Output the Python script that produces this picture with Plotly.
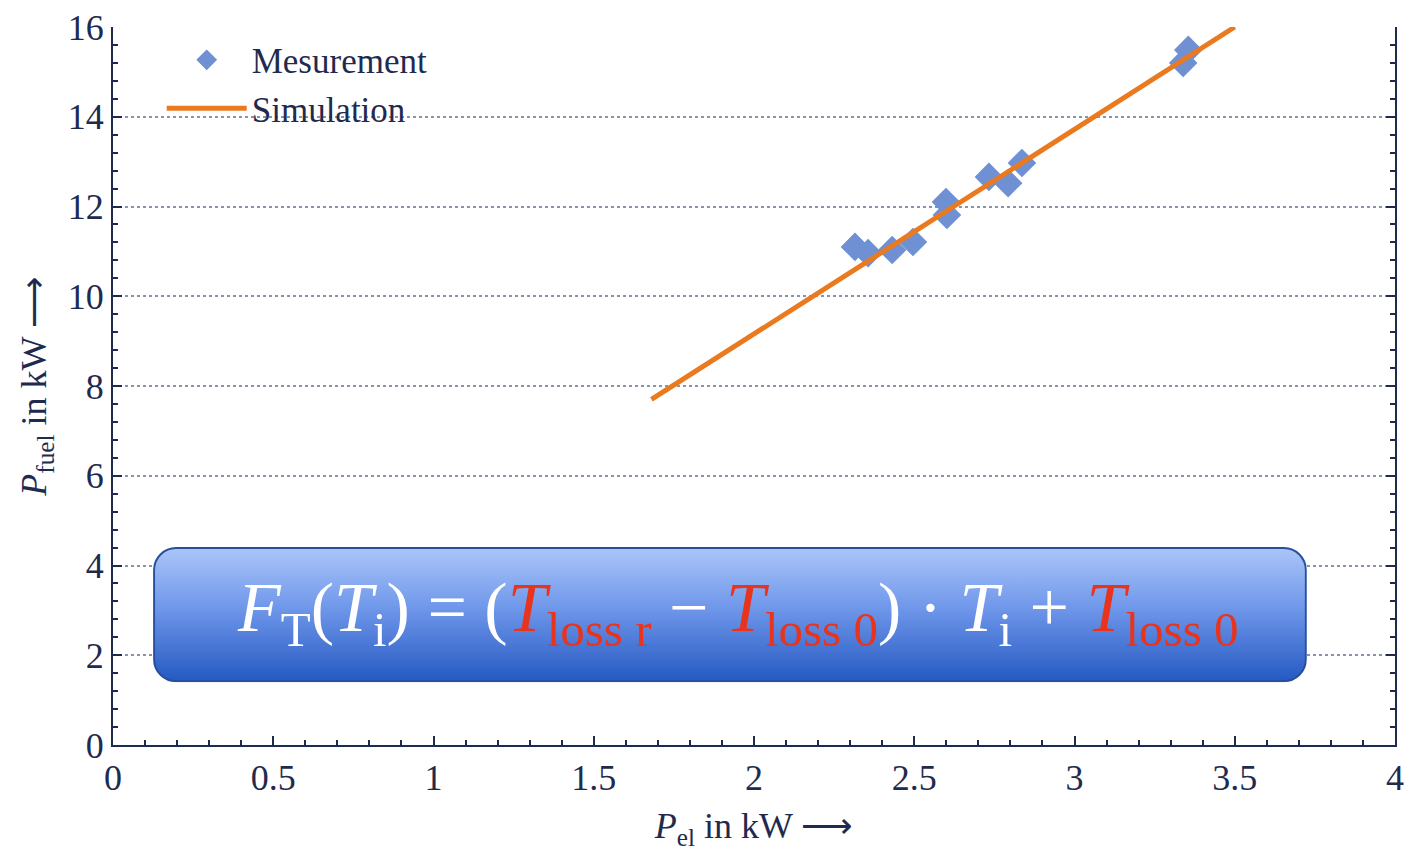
import base64
import plotly.graph_objects as go

# ---- data ----
meas_x = [2.315, 2.356, 2.431, 2.496, 2.599, 2.602, 2.733, 2.793, 2.836, 3.339, 3.355]
meas_y = [11.10, 10.96, 11.03, 11.21, 12.10, 11.81, 12.66, 12.52, 12.97, 15.20, 15.49]
sim_x = [1.68, 3.50]
sim_y = [7.70, 16.00]
x_ticks = [0, 0.5, 1, 1.5, 2, 2.5, 3, 3.5, 4]
x_ticklabels = ["0", "0.5", "1", "1.5", "2", "2.5", "3", "3.5", "4"]
y_ticks = [0, 2, 4, 6, 8, 10, 12, 14, 16]
y_ticklabels = ["0", "2", "4", "6", "8", "10", "12", "14", "16"]

FONT = "Liberation Serif"
NAVY = "#1f2b4e"

fig = go.Figure()
fig.add_trace(go.Scatter(
    x=meas_x, y=meas_y, mode="markers", name="Mesurement",
    marker=dict(symbol="diamond", size=22, color="#6f90d3", line=dict(width=0)),
))
fig.add_trace(go.Scatter(
    x=sim_x, y=sim_y, mode="lines", name="Simulation",
    line=dict(color="#ea7a1f", width=5),
))

# gradient rounded box as an SVG image
svg = """<svg xmlns='http://www.w3.org/2000/svg' width='1154' height='135' viewBox='0 0 1154 135'>
<defs><linearGradient id='g' x1='0' y1='0' x2='0' y2='1'>
<stop offset='0' stop-color='#abc5f8'/><stop offset='0.45' stop-color='#6f97ea'/>
<stop offset='1' stop-color='#2559c2'/></linearGradient></defs>
<rect x='1' y='1' width='1152' height='133' rx='22' ry='22' fill='url(#g)' stroke='#284f9e' stroke-width='2'/>
</svg>"""
src = "data:image/svg+xml;base64," + base64.b64encode(svg.encode()).decode()
fig.add_layout_image(dict(
    source=src, xref="x", yref="y", x=0.125, y=4.41, sizex=3.60, sizey=3.01,
    sizing="stretch", xanchor="left", yanchor="top", layer="above",
))

red = "#e8341c"
formula = ("<i>F</i><sub>T</sub>(<i>T</i><sub>i</sub>) = ("
           f"<span style='color:{red}'><i>T</i><sub>loss r</sub></span> − "
           f"<span style='color:{red}'><i>T</i><sub>loss 0</sub></span>) · "
           f"<i>T</i><sub>i</sub> + <span style='color:{red}'><i>T</i><sub>loss 0</sub></span>")
fig.add_annotation(x=1.95, y=2.95, xref="x", yref="y", text=formula, showarrow=False,
                   font=dict(family=FONT, size=70, color="white"))

axis_common = dict(
    showline=True, linecolor=NAVY, linewidth=2, ticks="inside",
    tickcolor=NAVY, tickwidth=2, tickfont=dict(family=FONT, size=36, color=NAVY),
    zeroline=False,
)
fig.update_xaxes(
    range=[0, 4], tickvals=x_ticks, ticktext=x_ticklabels, ticklen=9,
    showgrid=False, minor=dict(dtick=0.1, ticklen=5, ticks="inside", tickcolor=NAVY, tickwidth=1.5),
    title=dict(text="<i>P</i><sub>el</sub> in kW ⟶", font=dict(family=FONT, size=36, color=NAVY), standoff=18),
    **axis_common,
)
fig.update_yaxes(
    range=[0, 16], tickvals=y_ticks, ticktext=y_ticklabels, ticklen=9, mirror="ticks",
    showgrid=True, gridcolor="#8a93ad", griddash="dot", gridwidth=1.5,
    minor=dict(dtick=0.4, ticklen=5, ticks="inside", tickcolor=NAVY, tickwidth=1.5),
    title=dict(text="<i>P</i><sub>fuel</sub> in kW ⟶", font=dict(family=FONT, size=36, color=NAVY), standoff=10),
    **axis_common,
)

fig.update_layout(
    width=1406, height=851, margin=dict(l=113, r=11, t=27, b=106, autoexpand=False),
    paper_bgcolor="white", plot_bgcolor="white",
    legend=dict(x=0.038, y=0.995, xanchor="left", yanchor="top", bgcolor="rgba(0,0,0,0)",
                font=dict(family=FONT, size=35, color=NAVY), tracegroupgap=0, itemwidth=80),
    showlegend=True,
)
fig.write_html("out.html")
